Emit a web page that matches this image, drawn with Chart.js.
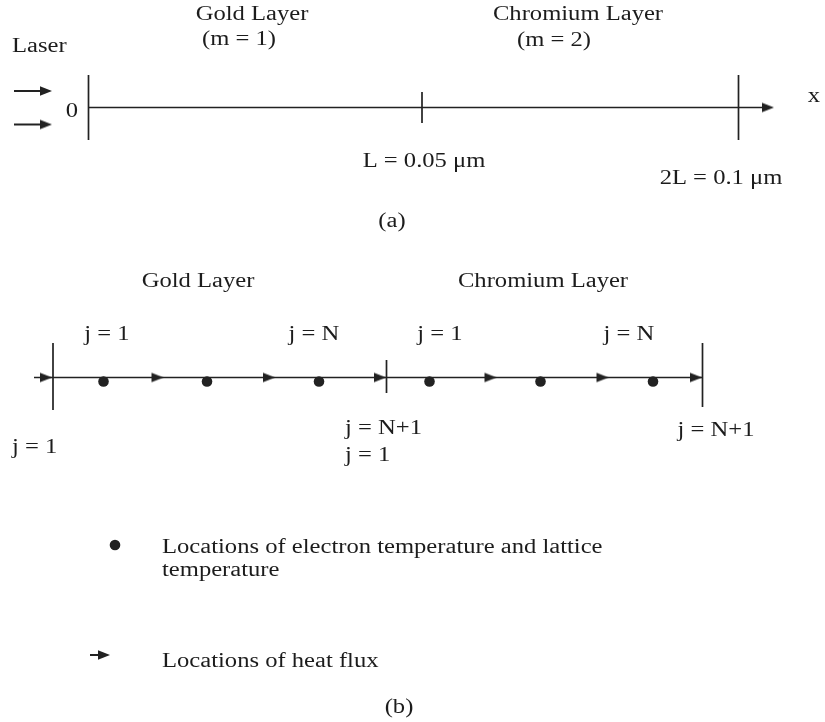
<!DOCTYPE html>
<html>
<head>
<meta charset="utf-8">
<script src="https://cdn.jsdelivr.net/npm/chart.js@4"></script>
<style>
  body { margin: 0; background: #fff; }
  canvas { display: block; }
</style>
</head>
<body>
<canvas id="esquema" width="825" height="722"></canvas>
<script>
// unidades do desenho = px da figura original (x para a direita, y para baixo)

// (a) domínio físico
const yEixoA = 107.5;
const eixoA = [89, 774];
const facesA = [88.5, 422, 738.5];
const topoFacesA = [75, 92, 75];
const baseFacesA = [140, 123, 140];
const yLaser = [91, 124.5];
const xLaser = [14, 52];

// (b) malha de volumes de controle
const yEixoB = 377.5;
const eixoB = [34, 702.5];
const facesB = [53, 386.5, 702.5];
const topoFacesB = [343, 360, 343];
const baseFacesB = [410, 393, 407];
const xFluxo = [52, 163.5, 275, 386, 496.5, 608.5, 702];
const xNos = [103.5, 207, 319, 429.5, 540.5, 653];
const yNos = 381.5;

// legenda
const legNo = [115, 545];
const legFluxo = [90, 110, 655];

// textos: [texto, x, y da linha de base, alinhamento]
const textos = [
  ['Laser', 12, 52, 'left'],
  ['Gold Layer', 252, 19.5],
  ['(m = 1)', 239, 45],
  ['Chromium Layer', 578, 19.5],
  ['(m = 2)', 554, 45.5],
  ['0', 72, 117],
  ['x', 814, 102],
  ['L = 0.05 μm', 424, 167],
  ['2L = 0.1 μm', 721, 184],
  ['(a)', 392, 227],
  ['Gold Layer', 198, 287],
  ['Chromium Layer', 543, 287],
  ['j = 1', 107, 340],
  ['j = N', 314, 340],
  ['j = 1', 440, 340],
  ['j = N', 629, 340],
  ['j = 1', 12, 453, 'left'],
  ['j = N+1', 345, 434, 'left'],
  ['j = 1', 345, 461, 'left'],
  ['j = N+1', 716, 436],
  ['Locations of electron temperature and lattice', 162, 553, 'left'],
  ['temperature', 162, 576, 'left'],
  ['Locations of heat flux', 162, 667, 'left'],
  ['(b)', 399, 713]
];

const COR = '#222';

// ponta de seta virada para a direita, com a ponta no centro da imagem
const ponta = document.createElement('canvas');
ponta.width = 26;
ponta.height = 12;
const pc = ponta.getContext('2d');
pc.fillStyle = COR;
pc.beginPath();
pc.moveTo(1, 1.2);
pc.lineTo(13, 6);
pc.lineTo(1, 10.8);
pc.closePath();
pc.fill();

const linha = (pts, largura) => ({
  data: pts.map(([x, y]) => ({ x, y })),
  showLine: true,
  borderColor: COR,
  borderWidth: largura,
  pointRadius: 0
});

const datasets = [];

// (a)
datasets.push(linha([[eixoA[0], yEixoA], [eixoA[1] - 6, yEixoA]], 1.7));
facesA.forEach((x, i) => datasets.push(linha([[x, topoFacesA[i]], [x, baseFacesA[i]]], 1.7)));
yLaser.forEach(y => datasets.push(linha([[xLaser[0], y], [xLaser[1] - 6, y]], 2)));

// (b)
datasets.push(linha([[eixoB[0], yEixoB], [eixoB[1], yEixoB]], 1.7));
facesB.forEach((x, i) => datasets.push(linha([[x, topoFacesB[i]], [x, baseFacesB[i]]], 1.7)));

// legenda
datasets.push(linha([[legFluxo[0], legFluxo[2]], [legFluxo[1] - 5, legFluxo[2]]], 2));

// pontas de seta (fluxo de calor, laser, eixo x)
const pontas = [
  ...yLaser.map(y => ({ x: xLaser[1], y })),
  { x: eixoA[1], y: yEixoA },
  ...xFluxo.map(x => ({ x, y: yEixoB })),
  { x: legFluxo[1], y: legFluxo[2] }
];
datasets.push({
  data: pontas,
  pointStyle: ponta,
  pointRadius: 5
});

// nós de temperatura
datasets.push({
  data: [...xNos.map(x => ({ x, y: yNos })), { x: legNo[0], y: legNo[1] }],
  pointStyle: 'circle',
  pointRadius: 5.3,
  backgroundColor: COR,
  borderColor: COR,
  borderWidth: 0
});

const rotulos = {
  id: 'rotulos',
  afterDatasetsDraw(chart) {
    const { ctx, scales } = chart;
    ctx.save();
    ctx.fillStyle = '#1c1c1c';
    ctx.font = '20px "Liberation Serif", "Times New Roman", serif';
    ctx.textBaseline = 'alphabetic';
    textos.forEach(([t, x, y, al]) => {
      ctx.save();
      ctx.translate(scales.x.getPixelForValue(x), scales.y.getPixelForValue(y));
      ctx.scale(1.23, 1);
      ctx.textAlign = al || 'center';
      ctx.fillText(t, 0, 0);
      ctx.restore();
    });
    ctx.restore();
  }
};

new Chart(document.getElementById('esquema'), {
  type: 'scatter',
  data: { datasets },
  options: {
    responsive: false,
    animation: false,
    events: [],
    layout: { padding: 0, autoPadding: false },
    scales: {
      x: { type: 'linear', min: 0, max: 825, display: false },
      y: { type: 'linear', min: 0, max: 722, reverse: true, display: false }
    },
    plugins: {
      legend: { display: false },
      tooltip: { enabled: false }
    }
  },
  plugins: [rotulos]
});
</script>
</body>
</html>
